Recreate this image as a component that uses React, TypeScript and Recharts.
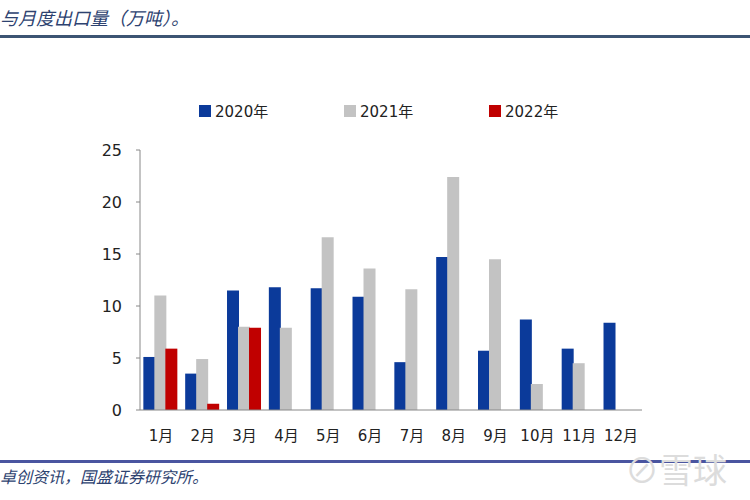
import { BarChart, Bar, XAxis, YAxis } from 'recharts';

const months = ['1月', '2月', '3月', '4月', '5月', '6月', '7月', '8月', '9月', '10月', '11月', '12月'];
const exports2020 = [5.1, 3.5, 11.5, 11.8, 11.7, 10.9, 4.6, 14.7, 5.7, 8.7, 5.9, 8.4];
const exports2021 = [11.0, 4.9, 8.0, 7.9, 16.6, 13.6, 11.6, 22.4, 14.5, 2.5, 4.5, null];
const exports2022 = [5.9, 0.6, 7.9, null, null, null, null, null, null, null, null, null];
const yTicks = [0, 5, 10, 15, 20, 25];

const seriesInfo = [
  { key: 'y2020', name: '2020年', color: '#0b3a9a' },
  { key: 'y2021', name: '2021年', color: '#c3c3c3' },
  { key: 'y2022', name: '2022年', color: '#c00000' },
];

const data = months.map((m, i) => ({
  month: m,
  y2020: exports2020[i],
  y2021: exports2021[i],
  y2022: exports2022[i],
}));

const font = '"DejaVu Sans", "Noto Sans CJK SC", sans-serif';

function LegendBox() {
  return (
    <div
      style={{
        position: 'absolute', top: 100, left: 199, display: 'flex',
        fontFamily: font, fontSize: 15, color: '#222',
      }}
    >
      {seriesInfo.map((s) => (
        <div key={s.key} style={{ display: 'flex', alignItems: 'center', width: 145 }}>
          <span style={{ display: 'inline-block', width: 12, height: 12, background: s.color, marginRight: 4 }} />
          <span>{s.name}</span>
        </div>
      ))}
    </div>
  );
}

export default function App() {
  return (
    <div style={{ position: 'absolute', left: 0, top: 0, width: 750, height: 500, background: '#fff', overflow: 'hidden' }}>
      <div
        style={{
          position: 'absolute', left: 0, top: 4, fontSize: 18, fontStyle: 'italic',
          fontFamily: '"Noto Sans CJK SC", serif', color: '#2d4270', whiteSpace: 'nowrap',
        }}
      >
        与月度出口量（万吨）。
      </div>
      <div style={{ position: 'absolute', left: 0, top: 35, width: 750, height: 3, background: '#3c5473' }} />

      <LegendBox />

      <div style={{ position: 'absolute', left: 0, top: 0 }}>
        <BarChart
          width={750}
          height={500}
          data={data}
          margin={{ top: 150, right: 108, bottom: 60, left: 100 }}
          barCategoryGap="8%"
          barGap={-1}
        >
          <XAxis
            dataKey="month"
            tickLine={false}
            axisLine={{ stroke: '#888' }}
            tick={{ fontSize: 15, fill: '#222', fontFamily: font }}
            tickMargin={14}
            interval={0}
            height={30}
          />
          <YAxis
            domain={[0, 25]}
            ticks={yTicks}
            width={40}
            axisLine={{ stroke: '#888' }}
            tickLine={{ stroke: '#888' }}
            tickSize={4}
            tickMargin={14}
            tick={{ fontSize: 16, fill: '#222', fontFamily: font }}
          />
          {seriesInfo.map((s) => (
            <Bar key={s.key} dataKey={s.key} name={s.name} fill={s.color} isAnimationActive={false} />
          ))}
        </BarChart>
      </div>

      <div style={{ position: 'absolute', left: 0, top: 460, width: 750, height: 3, background: '#4a55a0' }} />
      <div
        style={{
          position: 'absolute', left: 0, top: 464, fontSize: 16, fontStyle: 'italic',
          fontFamily: '"Noto Sans CJK SC", serif', color: '#2d4270', whiteSpace: 'nowrap',
        }}
      >
        卓创资讯，国盛证券研究所。
      </div>
      <div
        style={{
          position: 'absolute', left: 625, top: 444, fontSize: 34, fontFamily: '"Noto Sans CJK SC", sans-serif',
          color: '#dcdcdc', whiteSpace: 'nowrap',
        }}
      >
        ⊘雪球
      </div>
    </div>
  );
}
